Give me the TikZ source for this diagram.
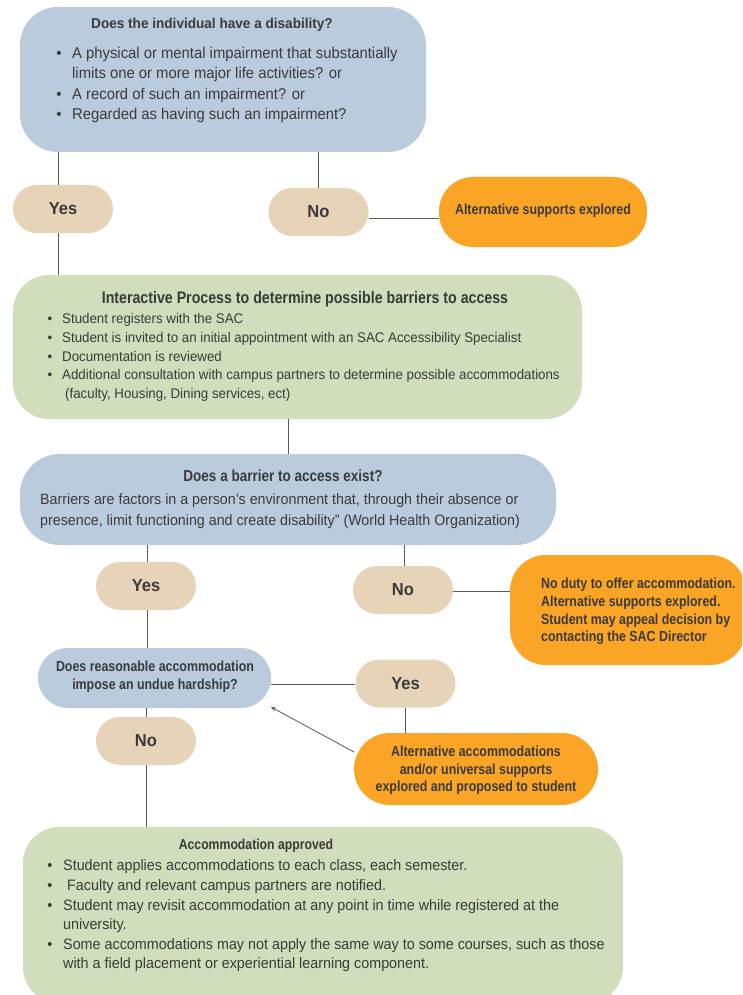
\documentclass[tikz,border=0pt]{standalone}
\usepackage{fontspec}
\setmainfont[FakeStretch=0.95]{Liberation Sans}
\newfontfamily\cnd[FakeStretch=0.85]{Liberation Sans}
\usetikzlibrary{arrows.meta}
\definecolor{qblue}{HTML}{BACBDE}
\definecolor{qgreen}{HTML}{D0DEBB}
\definecolor{qtan}{HTML}{E7D4B8}
\definecolor{qorange}{HTML}{FBA527}
\definecolor{qtext}{HTML}{3A3A3A}
\definecolor{qline}{HTML}{5A5A5A}
\newcommand\fs[1]{\fontsize{#1}{#1}\selectfont}
\tikzset{
  panel/.style={rectangle, inner sep=0pt, draw=none},
  pill/.style={rectangle, rounded corners=24pt, fill=qtan, minimum width=100pt, minimum height=48pt, inner sep=0pt, text=qtext, font=\bfseries\fs{17.4}},
  txt/.style={inner sep=0pt, text=qtext, anchor=base west},
  ctxt/.style={inner sep=0pt, text=qtext, anchor=base},
  link/.style={draw=qline, line width=0.9pt},
  topbody/.style={txt, font=\fs{15.6}},
  gonebody/.style={txt, font=\fs{14.0}},
  btwobody/.style={txt, font=\fs{15.0}},
  gtwobody/.style={txt, font=\fs{15.1}},
  otext/.style={font=\cnd\bfseries\fs{14.6}},
}
\newcommand\panelbox[7]{\node[panel, fill=#6, rounded corners=#7pt, minimum width={#4pt-#2pt}, minimum height={#5pt-#3pt}] (#1) at ({(#2+#4)/2},{(#3+#5)/2}) {};}
\begin{document}
\begin{tikzpicture}[x=1pt,y=-1pt]
\clip (0,0) rectangle (742,995);
\fill[white] (0,0) rectangle (742,995);

% coordinates for vertical connector positions
\coordinate (xa) at (58,0);
\coordinate (xb) at (318,0);
\coordinate (xc) at (288,0);
\coordinate (xd) at (147,0);
\coordinate (xe) at (404,0);
\coordinate (xf) at (405,0);
\coordinate (xg) at (146,0);
\coordinate (ya) at (0,218);
\coordinate (yb) at (0,591);
\coordinate (yc) at (0,684);

% ---------- boxes ----------
\panelbox{q1}{20}{7}{426}{152}{qblue}{38}
\panelbox{g1}{13}{275}{582}{419}{qgreen}{36}
\panelbox{q2}{20}{454}{556}{545}{qblue}{40}
\panelbox{q3}{38}{648}{271}{708}{qblue}{30}
\panelbox{g2}{23}{827}{623}{1003}{qgreen}{36}
\panelbox{o1}{439}{177}{647}{247}{qorange}{34}
\panelbox{o2}{510}{555}{746}{665}{qorange}{36}
\panelbox{o3}{354}{733}{598}{805}{qorange}{36}

\node[pill] (yes1) at (63,209) {Yes};
\node[pill] (no1) at (318.5,212) {No};
\node[pill] (yes2) at (146,586) {Yes};
\node[pill] (no2) at (403,590) {No};
\node[pill] (yes3) at (405.5,683.5) {Yes};
\node[pill] (no3) at (146,741) {No};

% ---------- connectors ----------
\draw[link] (q1.south -| xa) -- (yes1.north -| xa);
\draw[link] (yes1.south -| xa) -- (g1.north -| xa);
\draw[link] (q1.south -| xb) -- (no1.north -| xb);
\draw[link] (no1.east |- ya) -- (o1.west |- ya);
\draw[link] (g1.south -| xc) -- (q2.north -| xc);
\draw[link] (q2.south -| xd) -- (yes2.north -| xd);
\draw[link] (yes2.south -| xd) -- (q3.north -| xd);
\draw[link] (q2.south -| xe) -- (no2.north -| xe);
\draw[link] (no2.east |- yb) -- (o2.west |- yb);
\draw[link] (q3.east |- yc) -- (yes3.west |- yc);
\draw[link] (yes3.south -| xf) -- (o3.north -| xf);
\draw[link] (q3.south -| xg) -- (no3.north -| xg);
\draw[link] (no3.south -| xg) -- (g2.north -| xg);
\coordinate (arrs) at (354,752);
\coordinate (arre) at (271,707);
\draw[draw=qline, line width=0.8pt, -{Stealth[length=5pt,width=4pt]}] (arrs) -- (arre);

% ---------- texts: top question ----------
\node[ctxt, font=\bfseries\fs{14.3}] (q1t) at (212,29) {Does the individual have a disability?};
\node[ctxt, font=\fs{15.6}] (q1b1) at (59,59) {•};
\node[topbody] (q1l1) at (72,59) {A physical or mental impairment that substantially};
\node[topbody] (q1l2) at (72,79) {limits one or more major life activities? or};
\node[ctxt, font=\fs{15.6}] (q1b2) at (59,100) {•};
\node[topbody] (q1l3) at (72,100) {A record of such an impairment? or};
\node[ctxt, font=\fs{15.6}] (q1b3) at (59,120) {•};
\node[topbody] (q1l4) at (72,120) {Regarded as having such an impairment?};

\node[ctxt, otext] (o1t) at (543,214) {Alternative supports explored};

% ---------- interactive process ----------
\node[ctxt, font=\cnd\bfseries\fs{16.7}] (g1t) at (305,303) {Interactive Process to determine possible barriers to access};
\node[ctxt, font=\fs{14}] (g1b1) at (50,323) {•};
\node[gonebody] (g1l1) at (62,323) {Student registers with the SAC};
\node[ctxt, font=\fs{14}] (g1b2) at (50,342) {•};
\node[gonebody] (g1l2) at (62,342) {Student is invited to an initial appointment with an SAC Accessibility Specialist};
\node[ctxt, font=\fs{14}] (g1b3) at (50,361) {•};
\node[gonebody] (g1l3) at (62,361) {Documentation is reviewed};
\node[ctxt, font=\fs{14}] (g1b4) at (50,379.5) {•};
\node[gonebody] (g1l4) at (62,379.5) {Additional consultation with campus partners to determine possible accommodations};
\node[gonebody] (g1l5) at (65,398) {(faculty, Housing, Dining services, ect)};

% ---------- barrier question ----------
\node[ctxt, font=\cnd\bfseries\fs{15.9}] (q2t) at (283,481) {Does a barrier to access exist?};
\node[btwobody] (q2l1) at (40,504) {Barriers are factors in a person’s environment that, through their absence or};
\node[btwobody] (q2l2) at (40,525) {presence, limit functioning and create disability” (World Health Organization)};

\node[txt, otext] (o2l1) at (541,588) {No duty to offer accommodation.};
\node[txt, otext] (o2l2) at (541,606) {Alternative supports explored.};
\node[txt, otext] (o2l3) at (541,624) {Student may appeal decision by};
\node[txt, otext] (o2l4) at (541,641) {contacting the SAC Director};

% ---------- hardship ----------
\node[ctxt, otext] (q3l1) at (155,671) {Does reasonable accommodation};
\node[ctxt, otext] (q3l2) at (155,689) {impose an undue hardship?};

\node[ctxt, otext] (o3l1) at (476,756) {Alternative accommodations};
\node[ctxt, otext] (o3l2) at (476,774) {and/or universal supports};
\node[ctxt, otext] (o3l3) at (476,791) {explored and proposed to student};

% ---------- approved ----------
\node[ctxt, font=\cnd\bfseries\fs{14.4}] (g2t) at (256,849) {Accommodation approved};
\node[ctxt, font=\fs{15.1}] (g2b1) at (50,870) {•};
\node[gtwobody] (g2l1) at (63,870) {Student applies accommodations to each class, each semester.};
\node[ctxt, font=\fs{15.1}] (g2b2) at (50,890) {•};
\node[gtwobody] (g2l2) at (67,890) {Faculty and relevant campus partners are notified.};
\node[ctxt, font=\fs{15.1}] (g2b3) at (50,910) {•};
\node[gtwobody] (g2l3) at (63,910) {Student may revisit accommodation at any point in time while registered at the};
\node[gtwobody] (g2l4) at (63,929) {university.};
\node[ctxt, font=\fs{15.1}] (g2b4) at (50,949) {•};
\node[gtwobody] (g2l5) at (63,949) {Some accommodations may not apply the same way to some courses, such as those};
\node[gtwobody] (g2l6) at (63,968) {with a field placement or experiential learning component.};
\end{tikzpicture}
\end{document}
